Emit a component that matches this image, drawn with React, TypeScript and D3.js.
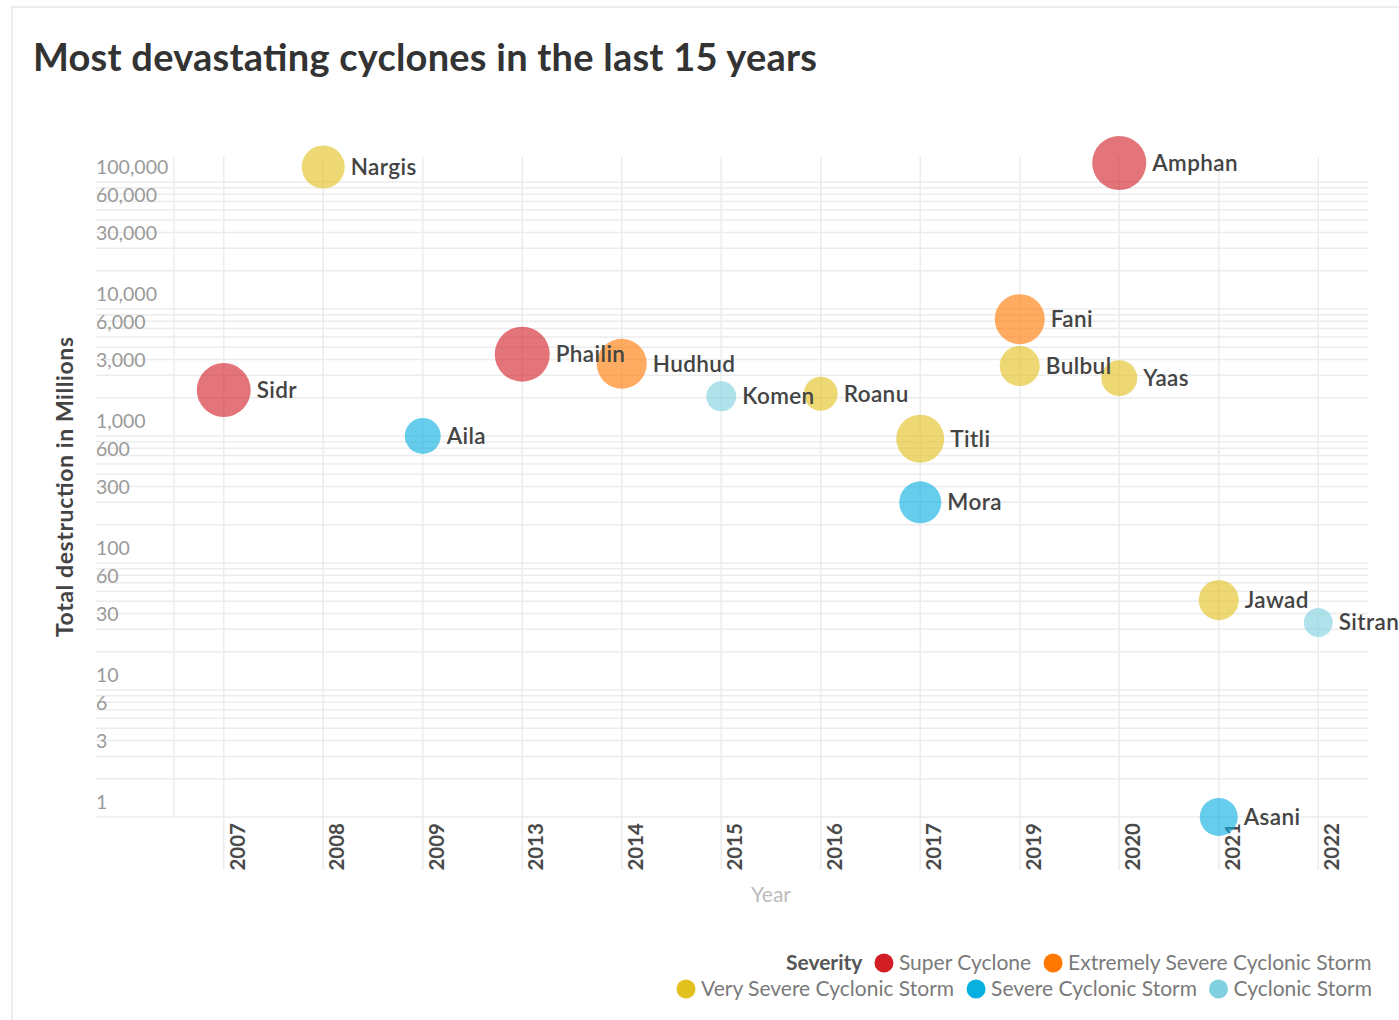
import React from "react";
import * as d3 from "d3";

const yearCategories = ["2007", "2008", "2009", "2013", "2014", "2015", "2016", "2017", "2019", "2020", "2021", "2022"];
const cycloneNames = ["Sidr", "Nargis", "Aila", "Phailin", "Hudhud", "Komen", "Roanu", "Titli", "Mora", "Fani", "Bulbul", "Amphan", "Yaas", "Jawad", "Asani", "Sitrang"];
const cycloneYears = ["2007", "2008", "2009", "2013", "2014", "2015", "2016", "2017", "2017", "2019", "2019", "2020", "2020", "2021", "2021", "2022"];
const cycloneSeverity = [
  "Super Cyclone", "Very Severe Cyclonic Storm", "Severe Cyclonic Storm", "Super Cyclone",
  "Extremely Severe Cyclonic Storm", "Cyclonic Storm", "Very Severe Cyclonic Storm", "Very Severe Cyclonic Storm",
  "Severe Cyclonic Storm", "Extremely Severe Cyclonic Storm", "Very Severe Cyclonic Storm", "Super Cyclone",
  "Very Severe Cyclonic Storm", "Very Severe Cyclonic Storm", "Severe Cyclonic Storm", "Cyclonic Storm",
];
const destructionMillions = [2300, 131000, 1000, 4400, 3700, 2050, 2150, 950, 300, 8300, 3550, 141000, 2850, 51, 1, 34];
const intensityValues = [250, 159, 111, 260, 215, 77, 99, 198, 152, 215, 138, 251, 111, 138, 124, 72];

const severityLevels = ["Super Cyclone", "Extremely Severe Cyclonic Storm", "Very Severe Cyclonic Storm", "Severe Cyclonic Storm", "Cyclonic Storm"];
const severityColors = ["#d21f26", "#ff7800", "#e2c01e", "#08b0e0", "#80d0e0"];

const yTickValues = [100000, 60000, 30000, 10000, 6000, 3000, 1000, 600, 300, 100, 60, 30, 10, 6, 3, 1];

const FONT = "Lato, 'Open Sans', sans-serif";

function measure(text: string, font: string): number {
  const c = document.createElement("canvas");
  const ctx = c.getContext("2d");
  if (!ctx) return text.length * 9;
  ctx.font = font;
  return ctx.measureText(text).width;
}

export default function App() {
  const W = 1399;
  const H = 1020;
  const plotLeft = 174;
  const plotRight = 1368;
  const plotTop = 157;
  const plotBottom = 817;

  const x = d3.scalePoint<string>().domain(yearCategories).range([plotLeft, plotRight]).padding(0.5);
  const y = d3.scaleLog().domain([1, 157000]).range([plotBottom, plotTop]);
  const r = d3.scaleSqrt().domain([0, 260]).range([0, 27.5]);
  const color = d3.scaleOrdinal<string, string>().domain(severityLevels).range(severityColors);
  const fmt = d3.format(",");

  const gridValues: number[] = [];
  for (let k = 0; k <= 5; k++) {
    for (let m = 1; m <= 9; m++) {
      const v = m * Math.pow(10, k);
      if (v <= 157000) gridValues.push(v);
    }
  }

  const points = cycloneNames.map((name, i) => ({
    name,
    year: cycloneYears[i],
    severity: cycloneSeverity[i],
    value: destructionMillions[i],
    size: intensityValues[i],
  }));

  // legend layout (right aligned rows)
  const legendFontSize = 21;
  const legendFont = `${legendFontSize}px Lato, 'Open Sans', sans-serif`;
  const legendRight = 1372;
  const rows: { items: string[]; header?: string; y: number }[] = [
    { header: "Severity", items: severityLevels.slice(0, 2), y: 963 },
    { items: severityLevels.slice(2), y: 989 },
  ];
  const circleR = 9.5;
  const circleToText = 15;
  const itemGap = 12;

  const legendElems: React.ReactNode[] = [];
  rows.forEach((row, ri) => {
    let cursor = legendRight;
    const placed: React.ReactNode[] = [];
    for (let j = row.items.length - 1; j >= 0; j--) {
      const label = row.items[j];
      const tw = measure(label, legendFont);
      const textX = cursor - tw;
      const cx = textX - circleToText;
      placed.push(
        <g key={`li-${ri}-${j}`}>
          <circle cx={cx} cy={row.y} r={circleR} fill={color(label)} />
          <text x={textX} y={row.y} dy="0.35em" fontSize={legendFontSize} fill="#7a7a7a" fontFamily={FONT}>
            {label}
          </text>
        </g>
      );
      cursor = cx - circleR - itemGap;
    }
    if (row.header) {
      placed.push(
        <text key={`lh-${ri}`} x={cursor} y={row.y} dy="0.35em" textAnchor="end" fontSize={legendFontSize} fontWeight="bold" fill="#555" fontFamily={FONT}>
          {row.header}
        </text>
      );
    }
    legendElems.push(...placed);
  });

  return (
    <div style={{ position: "absolute", left: 0, top: 0, width: W, height: H, background: "#fff" }}>
      <svg width={W} height={H} style={{ display: "block" }}>
        <rect x={12} y={7} width={W + 20} height={H + 20} fill="#fff" stroke="#e8e8e8" strokeWidth={1.5} />
        <text x={33} y={71} fontSize={38} fontWeight="bold" fill="#333" fontFamily={FONT} textLength={784} lengthAdjust="spacing">
          Most devastating cyclones in the last 15 years
        </text>

        {/* horizontal gridlines */}
        {gridValues.map((v) => (
          <line key={`h-${v}`} x1={96} x2={plotRight} y1={y(v)} y2={y(v)} stroke="#ececec" strokeWidth={1.5} />
        ))}
        {/* vertical gridlines */}
        <line x1={plotLeft} x2={plotLeft} y1={plotTop} y2={plotBottom} stroke="#ececec" strokeWidth={1.5} />
        {yearCategories.map((c) => (
          <line key={`v-${c}`} x1={x(c)} x2={x(c)} y1={plotTop} y2={870} stroke="#ececec" strokeWidth={1.5} />
        ))}

        {/* y tick labels */}
        {yTickValues.map((v) => (
          <text key={`yt-${v}`} x={96} y={y(v) - 8} fontSize={19.5} fill="#9a9a9a" fontFamily={FONT}>
            {fmt(v)}
          </text>
        ))}

        {/* x tick labels */}
        {yearCategories.map((c) => (
          <text
            key={`xt-${c}`}
            transform={`translate(${(x(c) as number) + 14},823) rotate(-90)`}
            dy="0.35em"
            textAnchor="end"
            fontSize={20.5}
            fontWeight="bold"
            fill="#4a4a4a"
            fontFamily={FONT}
          >
            {c}
          </text>
        ))}

        {/* axis titles */}
        <text transform="translate(65,487) rotate(-90)" textAnchor="middle" dy="0.35em" fontSize={23} fontWeight="bold" fill="#444" fontFamily={FONT} textLength={300} lengthAdjust="spacing">
          Total destruction in Millions
        </text>
        <text x={771} y={895} textAnchor="middle" dy="0.35em" fontSize={21} fill="#bbb" fontFamily={FONT}>
          Year
        </text>

        {/* bubbles */}
        {points.map((p) => (
          <circle key={`c-${p.name}`} cx={x(p.year)} cy={y(p.value)} r={r(p.size)} fill={color(p.severity)} fillOpacity={0.62} />
        ))}
        {/* labels */}
        {points.map((p) => (
          <text
            key={`t-${p.name}`}
            x={(x(p.year) as number) + r(p.size) + 6}
            y={y(p.value)}
            dy="0.35em"
            fontSize={22.5}
            fontWeight={600}
            letterSpacing={0.4}
            fill="#444"
            fontFamily={FONT}
          >
            {p.name}
          </text>
        ))}

        {legendElems}
      </svg>
    </div>
  );
}
